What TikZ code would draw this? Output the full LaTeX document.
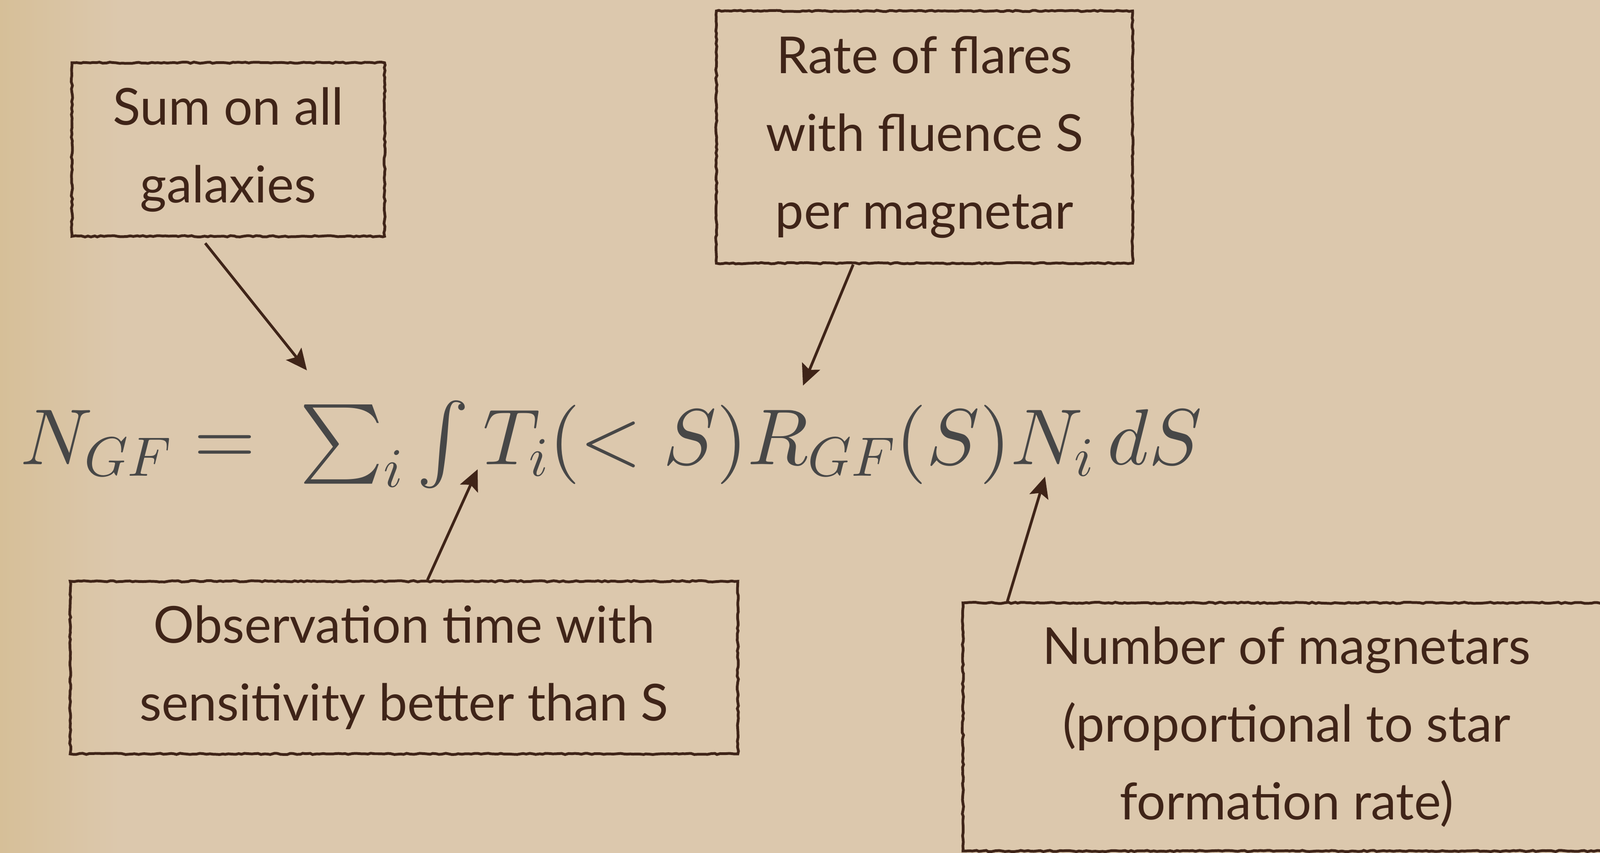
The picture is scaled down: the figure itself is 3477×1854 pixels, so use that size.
\documentclass[tikz,border=0pt]{standalone}
\usepackage{amsmath}
\usepackage{fontspec}
\setmainfont{Lato}
\DeclareFontShape{OML}{cmm}{m}{it}{<->cmmi10}{}
\DeclareFontShape{OMS}{cmsy}{m}{n}{<->cmsy10}{}
\DeclareFontShape{OMX}{cmex}{m}{n}{<->cmex10}{}
\DeclareFontShape{OT1}{cmr}{m}{n}{<->cmr10}{}
\usetikzlibrary{arrows.meta, calc, decorations.pathmorphing}
\definecolor{paper}{HTML}{DCC8AD}
\definecolor{paperedge}{HTML}{D6BF98}
\definecolor{ink}{HTML}{3F2418}
\definecolor{eqgray}{HTML}{474747}

\begin{document}
\begin{tikzpicture}[
    x=0.01cm, y=-0.01cm,
    note/.style={draw=ink, line width=1.7pt, text=ink, align=center, inner sep=0pt,
        font=\fontsize{31.5}{48}\selectfont,
        decorate, decoration={random steps, segment length=2pt, amplitude=0.4pt}},
    arr/.style={-{Stealth[length=13pt, width=12pt, inset=2.5pt]}, line width=1.7pt, draw=ink},
]

% Paper
\useasboundingbox (0,0) rectangle (3477,1854);
\clip (0,0) rectangle (3477,1854);
\fill[paper] (0,0) rectangle (3477,1854);
\shade[left color=paperedge, right color=paper] (0,0) rectangle (260,1854);

% Equation
\node[anchor=base west, inner sep=0pt, text=eqgray, font=\fontsize{49}{56}\selectfont] (eq) at (44,1009)
    {$N_{GF} =\;\textstyle\sum_i \int T_i(<S)R_{GF}(S)N_i\,dS$};

% Tips on the equation
\coordinate (sumtip) at (667,805);
\coordinate (ratetip) at (1745,838);
\coordinate (timetip) at (1038,1020);
\coordinate (numtip) at (2271,1036);

% Sum box
\node[note, minimum width=6.79cm, minimum height=3.77cm] (sumbox) at (496,325) {Sum on all\\galaxies};

% Rate box
\node[note, minimum width=9.04cm, minimum height=5.48cm] (ratebox) at (2009,298) {Rate of flares\\with fluence S\\per magnetar};

% Time box
\node[note, minimum width=14.5cm, minimum height=3.75cm] (timebox) at (878,1451) {Observation time with\\sensitivity better than S};

% Number box (runs off the page)
\node[note, minimum width=14.06cm, minimum height=5.39cm] (numbox) at (2796,1580) {Number of magnetars\\(proportional to star\\formation rate)};

% Arrows
\draw[arr] ($(sumbox.south)+(-50,12)$) -- (sumtip);
\draw[arr] ($(ratebox.south)+(-155,0)$) -- (ratetip);
\draw[arr] ($(timebox.north)+(51,0)$) -- (timetip);
\draw[arr] ($(numbox.north)+(-607,0)$) -- (numtip);

\end{tikzpicture}
\end{document}
